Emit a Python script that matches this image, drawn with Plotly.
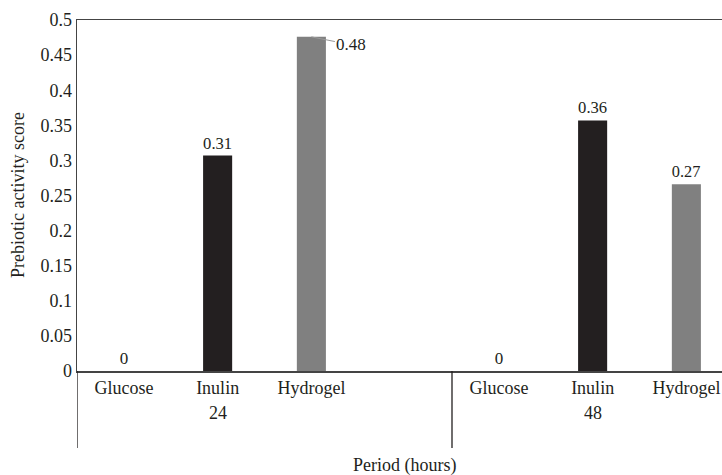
import plotly.graph_objects as go

# Data
periods = ["24", "48"]
treatments = ["Glucose", "Inulin", "Hydrogel"]
scores_24 = [0.0, 0.307, 0.476]
scores_48 = [0.0, 0.357, 0.266]
colors = {"Glucose": "#ffffff", "Inulin": "#231f20", "Hydrogel": "#808080"}
y_ticks = [0, 0.05, 0.1, 0.15, 0.2, 0.25, 0.3, 0.35, 0.4, 0.45, 0.5]
y_tick_labels = ["0", "0.05", "0.1", "0.15", "0.2", "0.25", "0.3", "0.35", "0.4", "0.45", "0.5"]

FONT = "Liberation Serif"
FS = 18
TXT = "#231f20"
SLOTS = 4  # each period group holds 4 category slots (last one empty)

W, H = 722, 475
# plot area in reference pixels
L, T, R, B = 77, 20, 722, 371
PW, PH = R - L, B - T
SLOT_PX = 93.75


def py(pix):  # reference pixel y -> paper y
    return (B - pix) / PH


def px(pix):  # reference pixel x -> paper x
    return (pix - L) / PW


xs, ys, cols, texts, labels = [], [], [], [], []
for g, vals in enumerate([scores_24, scores_48]):
    for i, (t, v) in enumerate(zip(treatments, vals)):
        xs.append(g * SLOTS + i)
        ys.append(v)
        cols.append(colors[t])
        labels.append(t)
        if g == 0 and t == "Hydrogel":
            texts.append("")
        elif v == 0:
            texts.append("0")
        else:
            texts.append(f"{v:.2f}")

fig = go.Figure()
fig.add_trace(go.Bar(
    x=xs, y=ys, width=0.31,
    marker=dict(color=cols, line=dict(width=0)),
    text=texts, textposition="outside", cliponaxis=False,
    textfont=dict(family=FONT, size=FS - 1, color=TXT),
    hoverinfo="skip",
))

annotations = []
# leader-line label for the tallest bar
annotations.append(dict(
    x=2, y=scores_24[2], xref="x", yref="y",
    text=f"{scores_24[2]:.2f}", showarrow=True, arrowhead=0, arrowwidth=1,
    arrowcolor="#999999", ax=40, ay=8,
    font=dict(family=FONT, size=FS - 1, color=TXT),
))
# group labels
for g, p in enumerate(periods):
    annotations.append(dict(
        x=g * SLOTS + 1, y=py(413), xref="x", yref="paper", text=p, showarrow=False,
        yanchor="middle", font=dict(family=FONT, size=FS, color=TXT),
    ))
annotations.append(dict(
    x=px(404), y=py(465), xref="paper", yref="paper", text="Period (hours)",
    showarrow=False, yanchor="middle",
    font=dict(family=FONT, size=FS, color=TXT),
))
annotations.append(dict(
    x=px(18), y=py(195), xref="paper", yref="paper", text="Prebiotic activity score",
    showarrow=False, textangle=-90, xanchor="center", yanchor="middle",
    font=dict(family=FONT, size=FS, color=TXT),
))

shapes = []
for g in range(len(periods) + 1):
    shapes.append(dict(
        type="line", xref="x", yref="paper",
        x0=g * SLOTS - 0.5, x1=g * SLOTS - 0.5, y0=0, y1=py(448),
        line=dict(color=TXT, width=1.3),
    ))

fig.update_layout(
    width=W, height=H,
    margin=dict(l=L, r=W - R, t=T, b=H - B, autoexpand=False),
    paper_bgcolor="white", plot_bgcolor="white",
    showlegend=False,
    font=dict(family=FONT, size=FS, color=TXT),
    xaxis=dict(
        range=[-0.5, PW / SLOT_PX - 0.5],
        tickmode="array", tickvals=xs, ticktext=labels,
        ticks="", ticklen=0, showgrid=False, zeroline=False, automargin=False,
        ticklabeloverflow="allow",
        showline=True, linecolor="#444444", linewidth=1.5, mirror=True,
        tickfont=dict(family=FONT, size=FS, color=TXT),
    ),
    yaxis=dict(
        range=[0, 0.5], tickmode="array", tickvals=y_ticks, ticktext=y_tick_labels,
        ticks="", ticklen=0, showgrid=False, zeroline=False, automargin=False,
        showline=True, linecolor="#444444", linewidth=1.5, mirror=False,
        tickfont=dict(family=FONT, size=FS, color=TXT),
    ),
    annotations=annotations,
    shapes=shapes,
)

fig.write_html(
    "out.html",
    config={"displayModeBar": False, "staticPlot": True},
    post_script="document.body.style.margin='0';document.body.style.overflow='hidden';",
)
